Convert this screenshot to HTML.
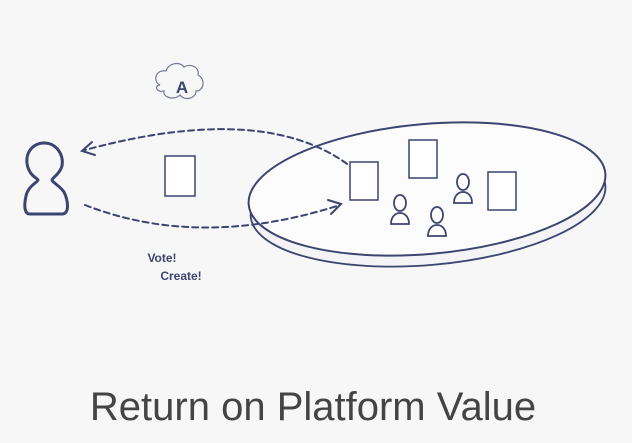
<!DOCTYPE html>
<html><head><style>
body{margin:0;width:632px;height:438px;background:#f7f7f7;overflow:hidden;font-family:"Liberation Sans",sans-serif}
</style></head><body>
<svg width="632" height="438" xmlns="http://www.w3.org/2000/svg">
<g fill="none" stroke="#3c4470" stroke-linecap="round">
 <ellipse cx="428" cy="201" rx="178" ry="64" transform="rotate(-5 428 201)" stroke-width="1.8" fill="#f4f4f6"/>
 <ellipse cx="427" cy="189" rx="179" ry="65" transform="rotate(-5 427 189)" stroke-width="2" fill="#fcfcfc"/>
 <path d="M355 170 Q270 100 85 150" stroke-width="2" stroke-dasharray="6 4"/>
 <path d="M92 142 L82 151 L95 155" stroke-width="2"/>
 <path d="M85 205 Q200 250 340 205" stroke-width="2" stroke-dasharray="6 4"/>
 <path d="M328 200 L341 204 L331 214" stroke-width="2"/>
 <path d="M44 143 C30 143 22 158 30 172 C33 177 38 179 38 180 C38 182 28 186 26 196 C24 205 24 214 30 214 L62 214 C70 214 68 200 64 192 C60 186 52 182 52 180 C52 178 60 174 62 166 C64 154 56 143 44 143 Z" stroke-width="3"/>
 <g stroke-width="1.5" fill="#fff">
  <rect x="165" y="156" width="30" height="40"/>
  <rect x="350" y="162" width="28" height="38"/>
  <rect x="409" y="140" width="28" height="38"/>
  <rect x="488" y="172" width="28" height="38"/>
 </g>
 <g stroke-width="1.8" fill="#fff">
  <ellipse cx="400" cy="203" rx="6" ry="8"/><path d="M391 224 c0-8 5-11 9-11 c4 0 9 3 9 11 Z"/>
  <ellipse cx="437" cy="215" rx="6" ry="8"/><path d="M428 236 c0-8 5-11 9-11 c4 0 9 3 9 11 Z"/>
  <ellipse cx="463" cy="182" rx="6" ry="8"/><path d="M454 203 c0-8 5-11 9-11 c4 0 9 3 9 11 Z"/>
 </g>
 <path d="M160 85 c-8 -4 -4 -16 6 -14 c2 -8 14 -10 18 -4 c6 -4 16 0 14 8 c8 4 6 16 -2 16 c0 8 -12 10 -16 4 c-6 6 -18 2 -16 -4 c-8 2 -10 -6 -4 -6 Z" stroke-width="1.2" opacity=".7"/>
</g>
<text x="182" y="93" font-family="Liberation Sans" font-size="17" font-weight="bold" fill="#3c4470" text-anchor="middle">A</text>
<text x="162" y="262" font-family="Liberation Sans" font-size="12" font-weight="bold" fill="#3c4470" text-anchor="middle">Vote!</text>
<text x="181" y="280" font-family="Liberation Sans" font-size="12" font-weight="bold" fill="#3c4470" text-anchor="middle">Create!</text>
<text x="313" y="420" font-family="Liberation Sans" font-size="40" fill="#444" text-anchor="middle">Return on Platform Value</text>
</svg>
</body></html>
